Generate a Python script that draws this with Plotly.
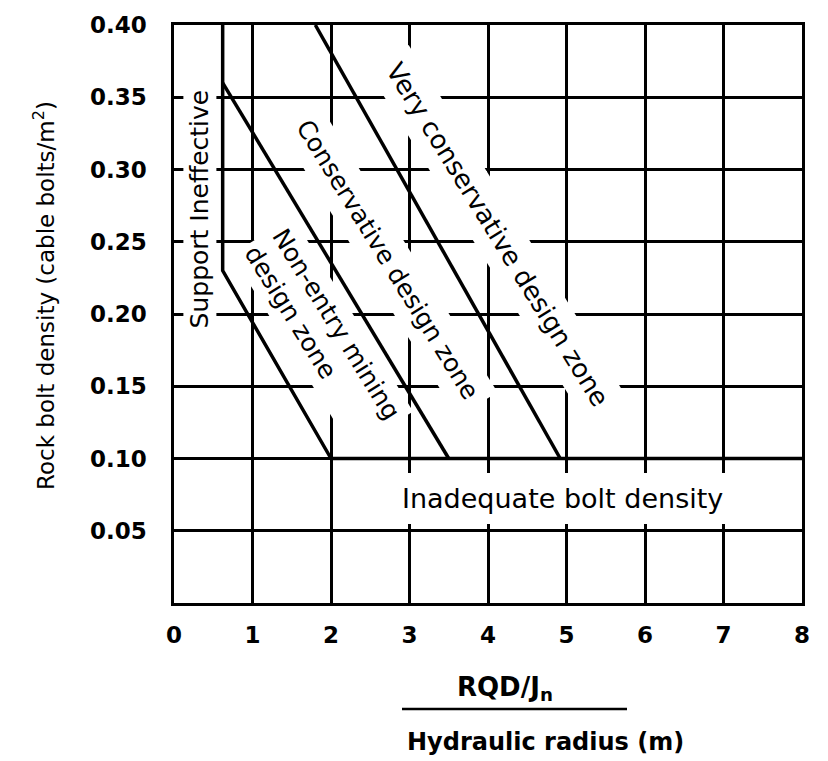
import math
import plotly.graph_objects as go

# ---------------- data ----------------
x_tick_vals = [0, 1, 2, 3, 4, 5, 6, 7, 8]
x_tick_text = ["0", "1", "2", "3", "4", "5", "6", "7", "8"]
y_tick_vals = [0.05, 0.10, 0.15, 0.20, 0.25, 0.30, 0.35, 0.40]
y_tick_text = ["0.05", "0.10", "0.15", "0.20", "0.25", "0.30", "0.35", "0.40"]

# boundary lines (RQD/Jn / HR, bolt density)
support_x = [0.62, 0.62, 2.0]
support_y = [0.40, 0.23, 0.10]
conservative_x = [0.62, 3.5]
conservative_y = [0.36, 0.10]
very_conservative_x = [1.8, 4.92]
very_conservative_y = [0.40, 0.10]
inadequate_x = [2.0, 8.0]
inadequate_y = [0.10, 0.10]

zone_labels = [
    "Support Ineffective",
    "Non-entry mining<br>design zone",
    "Conservative design zone",
    "Very conservative design zone",
    "Inadequate bolt density",
]

# ---------------- layout geometry ----------------
# the page body adds an 8 px offset; the figure is sized so it fits the window
OFF = 8
W, H = 828 - OFF, 761 - OFF
ML, MT = 174 - OFF, 25 - OFF
PR, PB = 802 - OFF, 603 - OFF
MR, MB = W - PR, H - PB
PW, PH = W - ML - MR, H - MT - MB
X_RANGE = [0, 8]
Y_RANGE = [0, 0.40]
px_per_x = PW / (X_RANGE[1] - X_RANGE[0])
px_per_y = PH / (Y_RANGE[1] - Y_RANGE[0])


def text_angle(xs, ys):
    slope = (ys[-1] - ys[-2]) / (xs[-1] - xs[-2])
    return math.degrees(math.atan(-slope * px_per_y / px_per_x))


def px_to_paper_x(px):
    return (px - OFF - ML) / PW


def px_to_paper_y(py):
    return 1 - (py - OFF - MT) / PH


FONT = "DejaVu Sans"
LINE_W = 3.5

fig = go.Figure()
for xs, ys in [
    (support_x, support_y),
    (conservative_x, conservative_y),
    (very_conservative_x, very_conservative_y),
    (inadequate_x, inadequate_y),
]:
    fig.add_trace(go.Scatter(x=xs, y=ys, mode="lines",
                             line=dict(color="black", width=LINE_W),
                             showlegend=False, hoverinfo="skip"))

lab_font = dict(family=FONT, size=25, color="black")
ang_c = text_angle(conservative_x, conservative_y)
ang_v = text_angle(very_conservative_x, very_conservative_y)
ang_text = (ang_c + ang_v) / 2 - 1.5

common = dict(showarrow=False, bgcolor="white", borderwidth=0,
              xanchor="center", yanchor="middle")
fig.add_annotation(x=0.33, y=0.273, text=zone_labels[0], textangle=-90,
                   borderpad=2, font=lab_font, **common)
fig.add_annotation(x=1.89, y=0.187, text=zone_labels[1], textangle=ang_text,
                   borderpad=5, align="left", font=lab_font, **common)
fig.add_annotation(x=2.72, y=0.2375, text=zone_labels[2], textangle=ang_text,
                   borderpad=9, font=lab_font, **common)
fig.add_annotation(x=4.13, y=0.255, text=zone_labels[3], textangle=ang_text,
                   borderpad=9, font=dict(family=FONT, size=26, color="black"), **common)
fig.add_annotation(x=4.95, y=0.072, text=zone_labels[4], textangle=0,
                   borderpad=10, font=dict(family=FONT, size=27, color="black"), **common)

# axis titles as annotations
title_common = dict(xref="paper", yref="paper", showarrow=False,
                    xanchor="center", yanchor="middle")
fig.add_annotation(x=px_to_paper_x(44), y=px_to_paper_y(296),
                   text="Rock bolt density (cable bolts/m<sup>2</sup>)", textangle=-90,
                   font=dict(family=FONT, size=23, color="black"), **title_common)
fig.add_annotation(x=px_to_paper_x(505), y=px_to_paper_y(688),
                   text="<b>RQD/J<sub>n</sub></b>",
                   font=dict(family=FONT, size=26, color="black"), **title_common)
fig.add_annotation(x=px_to_paper_x(545), y=px_to_paper_y(742),
                   text="<b>Hydraulic radius (m)</b>",
                   font=dict(family=FONT, size=24, color="black"), **title_common)
fig.add_shape(type="line", xref="paper", yref="paper",
              x0=px_to_paper_x(402), x1=px_to_paper_x(627),
              y0=px_to_paper_y(709), y1=px_to_paper_y(709),
              line=dict(color="black", width=2.5))

tick_font = dict(family=FONT, size=23, color="black", weight="bold")
fig.update_xaxes(range=X_RANGE, tickvals=x_tick_vals, ticktext=x_tick_text,
                 showgrid=True, gridcolor="black", gridwidth=2.5,
                 showline=True, linecolor="black", linewidth=2.5, mirror=True,
                 zeroline=False, ticks="", tickfont=tick_font,
                 ticklabelstandoff=10, ticklabeloverflow="allow",
                 fixedrange=True, automargin=False)
fig.update_yaxes(range=Y_RANGE, tickvals=y_tick_vals, ticktext=y_tick_text,
                 showgrid=True, gridcolor="black", gridwidth=2.5,
                 showline=True, linecolor="black", linewidth=2.5, mirror=True,
                 zeroline=False, ticks="", tickfont=tick_font,
                 ticklabelstandoff=20, ticklabeloverflow="allow",
                 fixedrange=True, automargin=False)

fig.update_layout(width=W, height=H, margin=dict(l=ML, r=MR, t=MT, b=MB),
                  plot_bgcolor="white", paper_bgcolor="white",
                  showlegend=False, font=dict(family=FONT, color="black"))

fig.write_html("out.html")
